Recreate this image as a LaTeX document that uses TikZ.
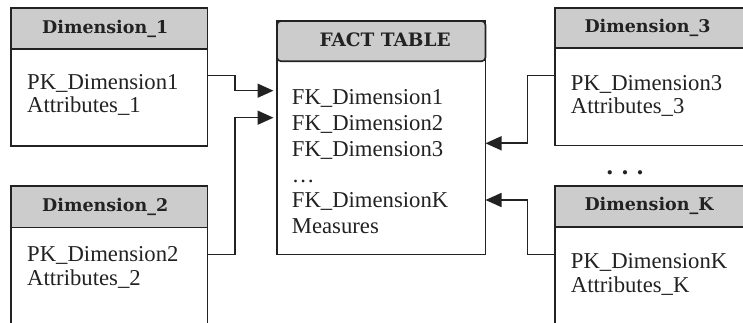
\documentclass[tikz,border=0pt]{standalone}
\usepackage{fontspec}
\newfontfamily\bodyfont{Liberation Serif}
\newfontfamily\headfont{DejaVu Serif}
\usetikzlibrary{arrows.meta,calc}
\definecolor{ink}{HTML}{222222}
\definecolor{hdrgray}{HTML}{CCCCCC}

\begin{document}
\begin{tikzpicture}[x=1pt,y=-1pt,
  frame/.style={draw=ink,line width=1.6pt,inner sep=0pt,outer sep=0pt,anchor=north west},
  hdr/.style={frame,fill=hdrgray},
  hdrtext/.style={anchor=base west,inner sep=0pt,text=ink,font=\headfont\bfseries\fontsize{17.5}{20}\selectfont},
  rowtext/.style={anchor=base west,inner sep=0pt,text=ink,font=\bodyfont\fontsize{22.7}{25.7}\selectfont},
  link/.style={draw=ink,line width=1.6pt},
  tipin/.style={link,-{Triangle[length=16pt,width=14pt]},shorten >=3.5pt},
  tipout/.style={link,-{Triangle[length=16pt,width=14pt]}}]

\useasboundingbox (0,0) rectangle (743,323);
\clip (0,0) rectangle (743,323);

% dimension tables on the left
\node[frame,minimum width=196.5pt,minimum height=138pt] (d1) at (11,8) {};
\node[hdr,minimum width=196.5pt,minimum height=41pt] (d1h) at (d1.north west) {};
\node[hdrtext] (d1n) at (42,33.3) {Dimension\_1};
\node[rowtext] (d1a) at (27,89.3) {PK\_Dimension1};
\node[rowtext] (d1b) at (27,113) {Attributes\_1};

\node[frame,minimum width=196.5pt,minimum height=160pt] (d2) at (11,186) {};
\node[hdr,minimum width=196.5pt,minimum height=41.5pt] (d2h) at (d2.north west) {};
\node[hdrtext] (d2n) at (42,211.5) {Dimension\_2};
\node[rowtext] (d2a) at (27,261.5) {PK\_Dimension2};
\node[rowtext] (d2b) at (27,285.5) {Attributes\_2};

% dimension tables on the right
\node[frame,minimum width=196.5pt,minimum height=137.7pt] (d3) at (555,8) {};
\node[hdr,minimum width=196.5pt,minimum height=40pt] (d3h) at (d3.north west) {};
\node[hdrtext] (d3n) at (584.3,32.5) {Dimension\_3};
\node[rowtext] (d3a) at (570.7,90.7) {PK\_Dimension3};
\node[rowtext] (d3b) at (570.7,113.5) {Attributes\_3};

\node[font=\bodyfont\bfseries\fontsize{26}{28}\selectfont,text=ink,anchor=base,inner sep=0pt] (gap) at (625,174) {. . .};

\node[frame,minimum width=196.5pt,minimum height=160pt] (dk) at (555,186) {};
\node[hdr,minimum width=196.5pt,minimum height=40.7pt] (dkh) at (dk.north west) {};
\node[hdrtext] (dkn) at (584.3,210) {Dimension\_K};
\node[rowtext] (dka) at (570.7,268.5) {PK\_DimensionK};
\node[rowtext] (dkb) at (570.7,292) {Attributes\_K};

% fact table
\node[frame,minimum width=208.5pt,minimum height=233.3pt] (ft) at (277,21) {};
\node[hdr,rounded corners=4pt,minimum width=208.5pt,minimum height=40.3pt] (fth) at (ft.north west) {};
\node[hdrtext,font=\headfont\bfseries\fontsize{18.5}{22}\selectfont] (ftn) at (319.3,46.3) {FACT TABLE};
\node[rowtext] (f1) at (291.7,104.7) {FK\_Dimension1};
\node[rowtext] (f2) at (291.7,130.2) {FK\_Dimension2};
\node[rowtext] (f3) at (291.7,156.1) {FK\_Dimension3};
\node[rowtext] (f4) at (291.7,182.5) {…};
\node[rowtext] (f5) at (291.7,207.6) {FK\_DimensionK};
\node[rowtext] (f6) at (291.7,233.3) {Measures};

% key links
\draw[tipin]  ([yshift=-67.7pt]d1.north east) -- ++(27.5,0) |- ([yshift=-69.7pt]ft.north west);
\draw[tipin]  ([yshift=-68.3pt]d2.north east) -- ++(27.5,0) |- ([yshift=-96.7pt]ft.north west);
\draw[tipout] ([yshift=-67.7pt]d3.north west) -- ++(-27.7,0) |- ([yshift=-122.3pt]ft.north east);
\draw[tipout] ([yshift=-68.3pt]dk.north west) -- ++(-27.7,0) |- ([yshift=-179pt]ft.north east);
\end{tikzpicture}
\end{document}
